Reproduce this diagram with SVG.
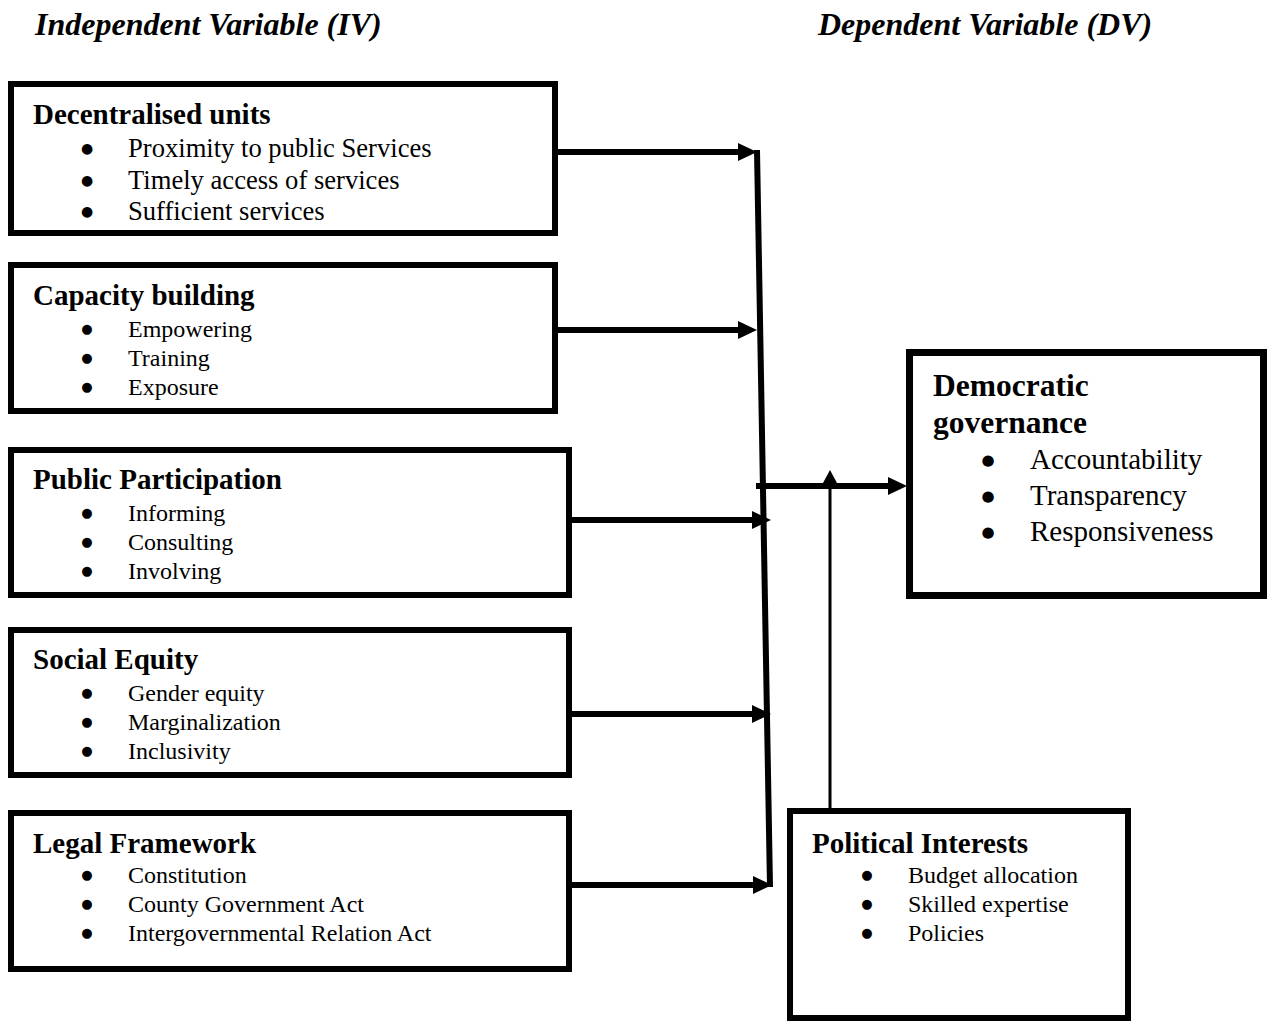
<svg xmlns="http://www.w3.org/2000/svg" width="1270" height="1021" viewBox="0 0 1270 1021">
<style>
text{font-family:"Liberation Serif","Times New Roman",serif;fill:#000}
.title{font-size:32px;font-weight:bold;font-style:italic}
.hd{font-size:29px;font-weight:bold}
.hd2{font-size:31.5px;font-weight:bold}
.b24{font-size:24px}
.b26{font-size:26.6px}
.b29{font-size:29px}
.bul{text-anchor:middle;font-family:"DejaVu Sans",sans-serif}
.u24{font-size:13px}
.u26{font-size:14px}
.u29{font-size:15px}
.box{fill:#fff;stroke:#000;stroke-width:6}
.box7{fill:#fff;stroke:#000;stroke-width:7}
.con{stroke:#000;stroke-width:6;fill:none}
.thin{stroke:#000;stroke-width:3;fill:none}
</style>
<defs>
<marker id="ah" markerUnits="userSpaceOnUse" markerWidth="20" markerHeight="20" refX="7" refY="9" orient="auto">
<path d="M0,0 L19,9 L0,18 Z" fill="#000"/>
</marker>
<marker id="ahs" markerUnits="userSpaceOnUse" markerWidth="16" markerHeight="16" refX="5" refY="7" orient="auto">
<path d="M0,0 L13,7 L0,14 Z" fill="#000"/>
</marker>
</defs>
<rect width="1270" height="1021" fill="#fff"/>
<text class="title" x="35" y="35">Independent Variable (IV)</text>
<text class="title" x="818" y="35">Dependent Variable (DV)</text>

<g id="connectors">
<line class="con" x1="757" y1="150" x2="770" y2="887"/>
<line class="con" x1="558" y1="152" x2="745" y2="152" marker-end="url(#ah)"/>
<line class="con" x1="558" y1="330" x2="745" y2="330" marker-end="url(#ah)"/>
<line class="con" x1="572" y1="520" x2="759" y2="520" marker-end="url(#ah)"/>
<line class="con" x1="572" y1="714" x2="759" y2="714" marker-end="url(#ah)"/>
<line class="con" x1="572" y1="885" x2="760" y2="885" marker-end="url(#ah)"/>
<line class="con" x1="756" y1="486" x2="895" y2="486" marker-end="url(#ah)"/>
<line class="thin" x1="830" y1="809" x2="830" y2="478" marker-end="url(#ahs)"/>
</g>

<g id="decentralised-units">
<rect class="box" x="11" y="84" width="544" height="149"/>
<text class="hd" x="33" y="124">Decentralised units</text>
<text class="u26 bul" x="87" y="153">●</text><text class="b26" x="128" y="157">Proximity to public Services</text>
<text class="u26 bul" x="87" y="185">●</text><text class="b26" x="128" y="189">Timely access of services</text>
<text class="u26 bul" x="87" y="216">●</text><text class="b26" x="128" y="220">Sufficient services</text>
</g>

<g id="capacity-building">
<rect class="box" x="11" y="265" width="544" height="146"/>
<text class="hd" x="33" y="305">Capacity building</text>
<text class="u24 bul" x="87" y="333">●</text><text class="b24" x="128" y="337">Empowering</text>
<text class="u24 bul" x="87" y="362">●</text><text class="b24" x="128" y="366">Training</text>
<text class="u24 bul" x="87" y="391">●</text><text class="b24" x="128" y="395">Exposure</text>
</g>

<g id="public-participation">
<rect class="box" x="11" y="450" width="558" height="145"/>
<text class="hd" x="33" y="489">Public Participation</text>
<text class="u24 bul" x="87" y="517">●</text><text class="b24" x="128" y="521">Informing</text>
<text class="u24 bul" x="87" y="546">●</text><text class="b24" x="128" y="550">Consulting</text>
<text class="u24 bul" x="87" y="575">●</text><text class="b24" x="128" y="579">Involving</text>
</g>

<g id="social-equity">
<rect class="box" x="11" y="630" width="558" height="145"/>
<text class="hd" x="33" y="669">Social Equity</text>
<text class="u24 bul" x="87" y="697">●</text><text class="b24" x="128" y="701">Gender equity</text>
<text class="u24 bul" x="87" y="726">●</text><text class="b24" x="128" y="730">Marginalization</text>
<text class="u24 bul" x="87" y="755">●</text><text class="b24" x="128" y="759">Inclusivity</text>
</g>

<g id="legal-framework">
<rect class="box" x="11" y="813" width="558" height="156"/>
<text class="hd" x="33" y="853">Legal Framework</text>
<text class="u24 bul" x="87" y="879">●</text><text class="b24" x="128" y="883">Constitution</text>
<text class="u24 bul" x="87" y="908">●</text><text class="b24" x="128" y="912">County Government Act</text>
<text class="u24 bul" x="87" y="937">●</text><text class="b24" x="128" y="941">Intergovernmental Relation Act</text>
</g>

<g id="democratic-governance">
<rect class="box7" x="909.5" y="352.5" width="354" height="243"/>
<text class="hd2" x="933" y="396">Democratic</text>
<text class="hd2" x="933" y="433">governance</text>
<text class="u29 bul" x="988" y="465">●</text><text class="b29" x="1030" y="469">Accountability</text>
<text class="u29 bul" x="988" y="501">●</text><text class="b29" x="1030" y="505">Transparency</text>
<text class="u29 bul" x="988" y="537">●</text><text class="b29" x="1030" y="541">Responsiveness</text>
</g>

<g id="political-interests">
<rect class="box" x="790" y="811" width="338" height="207"/>
<text class="hd" x="812" y="853">Political Interests</text>
<text class="u24 bul" x="867" y="879">●</text><text class="b24" x="908" y="883">Budget allocation</text>
<text class="u24 bul" x="867" y="908">●</text><text class="b24" x="908" y="912">Skilled expertise</text>
<text class="u24 bul" x="867" y="937">●</text><text class="b24" x="908" y="941">Policies</text>
</g>
</svg>
